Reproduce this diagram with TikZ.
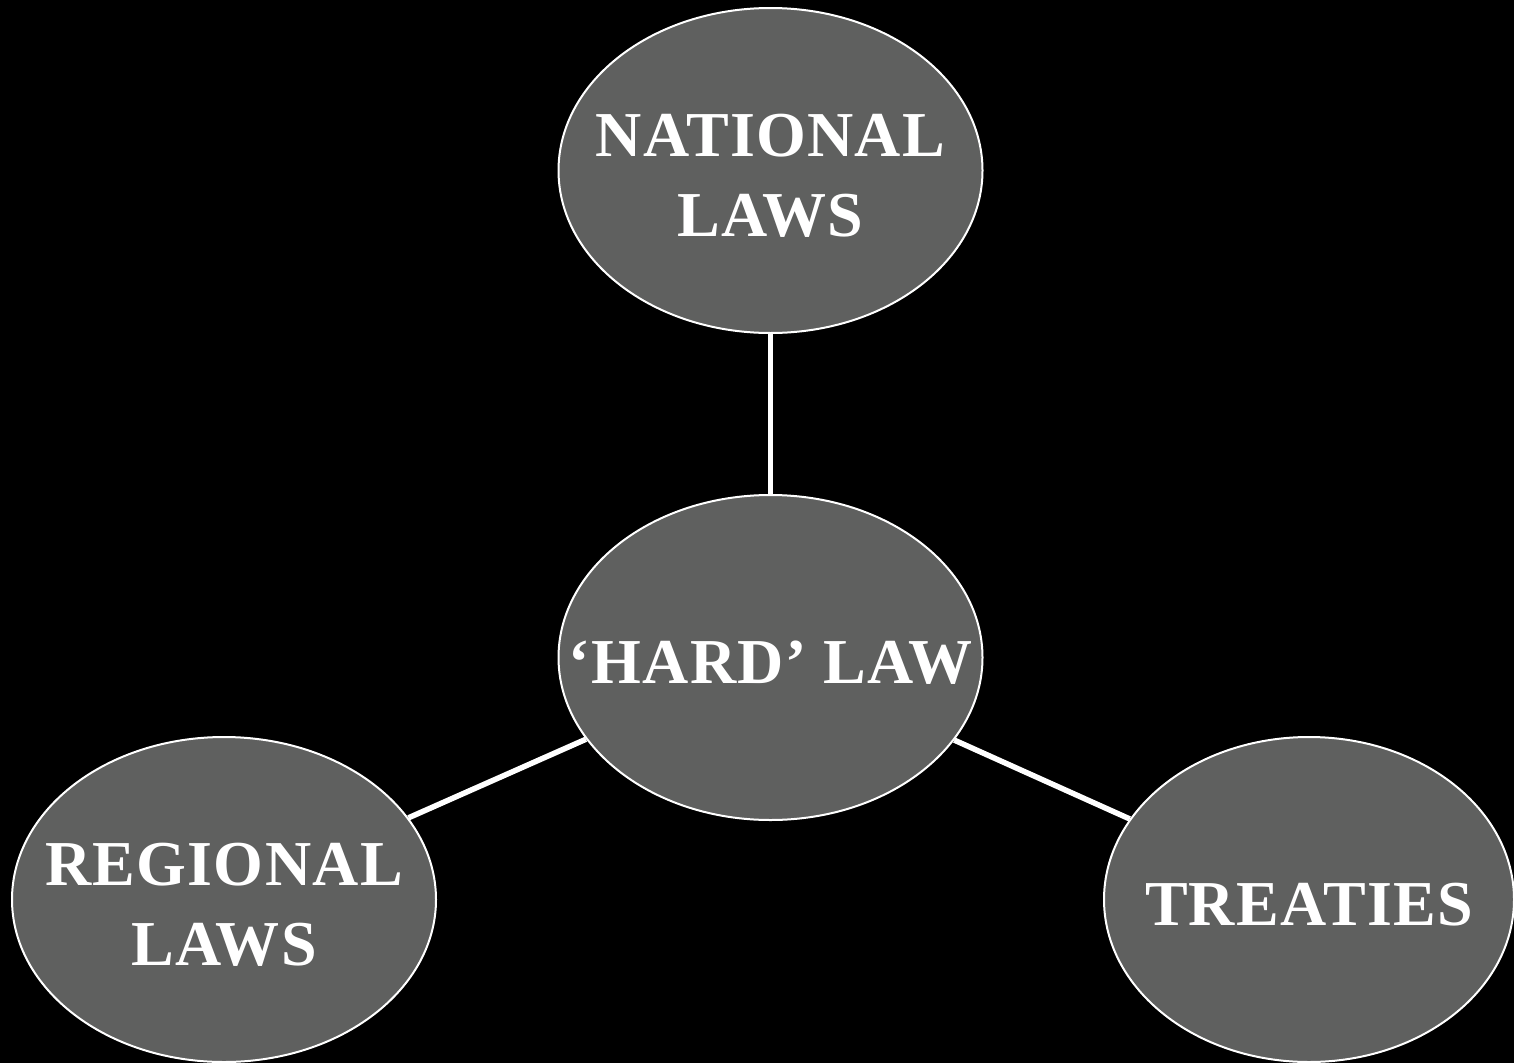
\documentclass[tikz,border=0pt]{standalone}
\usepackage{fontspec}
\setmainfont{Liberation Serif}[LetterSpace=2]
\usetikzlibrary{shapes.geometric}
\definecolor{bubblegray}{RGB}{95,96,95}
\tikzset{
  bubble/.style={ellipse, draw=white, fill=bubblegray, line width=2pt,
    inner sep=0pt, minimum width=424pt, minimum height=325pt},
  lbl/.style={text=white, align=center, font=\bfseries\fontsize{64}{80}\selectfont, yshift=-5pt},
  link/.style={draw=white, line width=5.5pt}
}
\begin{document}
\begin{tikzpicture}[x=1pt,y=-1pt]
\fill[black] (0,0) rectangle (1514,1063);
\useasboundingbox (0,0) rectangle (1514,1063);
\node[bubble, label={[lbl]center:NATIONAL\\LAWS}] (nat) at (770.5,170.5) {};
\node[bubble, label={[lbl]center:‘HARD’ LAW}] (hard) at (770.5,657.5) {};
\node[bubble, label={[lbl]center:REGIONAL\\LAWS}] (reg) at (224,899.5) {};
\node[bubble, minimum width=410pt, label={[lbl]center:TREATIES}] (tre) at (1309,899.5) {};
\draw[link] (nat) -- (hard);
\draw[link] (hard) -- (reg);
\draw[link] (hard) -- (tre);
\end{tikzpicture}
\end{document}
